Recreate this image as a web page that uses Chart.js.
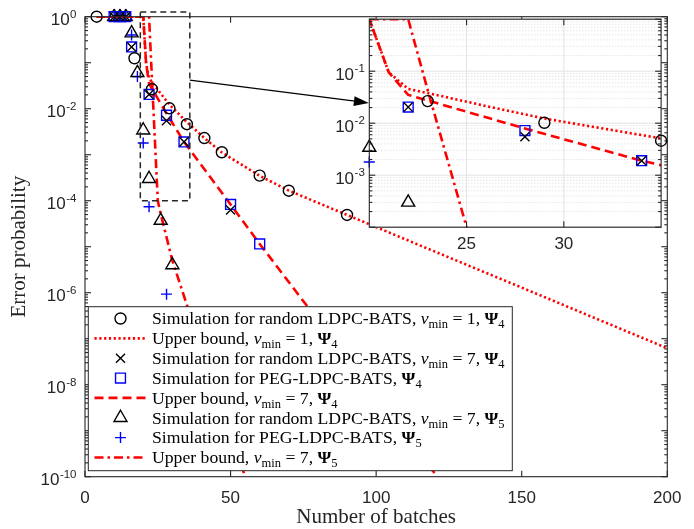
<!DOCTYPE html>
<html>
<head>
<meta charset="utf-8">
<script src="https://cdn.jsdelivr.net/npm/chart.js@4.4.1/dist/chart.umd.min.js"></script>
<style>
  body { margin: 0; background: #fff; }
  #wrap { position: relative; width: 694px; height: 529px; }
  #wrap canvas { position: absolute; }
  #main { left: 0; top: 0; }
  #inset { left: 330px; top: 0; }
</style>
</head>
<body>
<div id="wrap">
  <canvas id="main" width="694" height="529"></canvas>
  <canvas id="inset" width="340" height="260"></canvas>
</div>
<script>
/* valores */
const circX = [4, 17, 23, 29, 35, 41, 47, 60, 70, 90];
const circP = [1, 0.125, 0.0266, 0.0102, 0.0046, 0.0023, 0.00113, 3.5e-4, 1.65e-4, 4.9e-5];

const crossX = [10, 12, 14, 16, 22, 28, 34, 50];
const crossP = [1, 1, 1, 0.22, 0.0204, 0.0055, 0.0019, 6.3e-5];

const sqX = [10, 12, 14, 16, 22, 28, 34, 50, 60];
const sqP = [1, 1, 1, 0.22, 0.0204, 0.0072, 0.0019, 8.3e-5, 1.15e-5];

const triX = [10, 12, 14, 16, 18, 20, 22, 26, 30];
const triP = [1, 1, 1, 0.44, 0.06, 0.0034, 3e-4, 3.7e-5, 4e-6];

const plusX = [10, 12, 14, 16, 18, 20, 22, 28];
const plusP = [1, 1, 1, 0.4, 0.05, 0.0018, 7.4e-5, 9.3e-7];

// cotas superiores
const ub1X = [4, 20, 21, 22, 23, 26, 29, 35, 41, 47, 60, 70, 90, 120, 150, 200];
const ub1P = [1, 1, 0.095, 0.0457, 0.038, 0.0214, 0.0123, 0.0051, 0.0023, 0.00112, 3.47e-4, 1.66e-4, 4.9e-5, 7.9e-6, 1.29e-6, 6.2e-8];

const ub7X = [4, 20, 21, 22, 25, 28, 34, 50, 60, 121, 130];
const ub7P = [1, 1, 0.095, 0.035, 0.0166, 0.0079, 0.0019, 8.3e-5, 1.15e-5, 1e-10, 1.7e-11];

const ub5X = [4, 22, 23, 24, 25, 26, 30, 35, 45, 55, 60];
const ub5P = [1, 1, 0.0437, 0.0021, 1e-4, 5.2e-5, 5e-6, 5.4e-7, 7.9e-9, 1e-10, 1.2e-11];

// ejes
const xTicks = [0, 50, 100, 150, 200];
const yTickExp = [0, -2, -4, -6, -8, -10];
const insetXTicks = [25, 30];
const insetYTickExp = [-1, -2, -3];

// leyenda
const legendNames = ["Simulation for random LDPC-BATS", "Upper bound", "Simulation for random LDPC-BATS",
  "Simulation for PEG-LDPC-BATS", "Upper bound", "Simulation for random LDPC-BATS",
  "Simulation for PEG-LDPC-BATS", "Upper bound"];
const legendNu = [1, 1, 7, null, 7, 7, null, 7];
const legendPsi = [4, 4, 4, 4, 4, 5, 5, 5];

// recuadro de zoom y flecha (coordenadas de datos)
const zoomBoxX = [19, 36];
const zoomBoxP = [1e-4, 1.26];
const arrowFrom = [36, 0.042];
const arrowTo = [97.5, 0.0133];

const AX = "#262626";
const RED = "#ff0000";
const BLUE = "#0000ff";
const SANS = '"Liberation Sans", Arial, sans-serif';
const SERIF = '"Liberation Serif", "Times New Roman", serif';

function pts(xs, ys) {
  return xs.map((x, i) => ({ x: x, y: ys[i] }));
}

function marker(label, xs, ys, style, r, color) {
  return {
    label: label, data: pts(xs, ys), showLine: false,
    clip: { left: 8, right: 8, top: 8, bottom: 0 },
    pointStyle: style, pointRadius: r, pointBorderWidth: 1.4,
    borderColor: color, backgroundColor: "rgba(0,0,0,0)",
  };
}

function bound(label, xs, ys, dash) {
  return {
    label: label, data: pts(xs, ys), borderColor: RED, borderWidth: 2.6,
    borderDash: dash, pointRadius: 0, fill: false, tension: 0,
  };
}

function makeDatasets() {
  return [
    marker("circ", circX, circP, "circle", 5.5, "#000"),
    bound("ub1", ub1X, ub1P, [2.2, 2.6]),
    marker("cross", crossX, crossP, "crossRot", 6.4, "#000"),
    marker("sq", sqX, sqP, "rect", 7, BLUE),
    bound("ub7", ub7X, ub7P, [9, 5]),
    marker("tri", triX, triP, "triangle", 7.5, "#000"),
    marker("plus", plusX, plusP, "cross", 5.5, BLUE),
    bound("ub5", ub5X, ub5P, [9, 4, 2.5, 4]),
  ];
}

function line(ctx, x0, y0, x1, y1) {
  ctx.beginPath(); ctx.moveTo(x0, y0); ctx.lineTo(x1, y1); ctx.stroke();
}

// ticks hacia adentro en los cuatro lados
function drawTicks(ctx, a, xs, yMajor, yMinor, xScale, yScale) {
  xs.forEach(v => {
    const p = xScale.getPixelForValue(v);
    line(ctx, p, a.bottom, p, a.bottom - 6);
    line(ctx, p, a.top, p, a.top + 6);
  });
  yMajor.forEach(v => {
    const p = yScale.getPixelForValue(v);
    line(ctx, a.left, p, a.left + 6, p);
    line(ctx, a.right, p, a.right - 6, p);
  });
  yMinor.forEach(v => {
    const p = yScale.getPixelForValue(v);
    line(ctx, a.left, p, a.left + 3, p);
    line(ctx, a.right, p, a.right - 3, p);
  });
}

function decades(lo, hi) {
  const major = [], minor = [];
  for (let e = lo; e <= hi; e++) {
    major.push(Math.pow(10, e));
    if (e < hi) for (let m = 2; m <= 9; m++) minor.push(m * Math.pow(10, e));
  }
  return { major, minor };
}

// etiqueta 10^e alineada a la derecha
function powLabel(ctx, exp, xRight, yTick) {
  const e = String(exp);
  ctx.font = "11.5px " + SANS;
  const ew = ctx.measureText(e).width;
  ctx.font = "17px " + SANS;
  const bw = ctx.measureText("10").width;
  const x0 = xRight - ew - bw;
  ctx.textAlign = "left";
  ctx.textBaseline = "alphabetic";
  ctx.fillText("10", x0, yTick + 8.3);
  ctx.font = "11.5px " + SANS;
  ctx.fillText(e, x0 + bw + 0.5, yTick + 0.8);
}

function drawRich(ctx, segs, x, y) {
  segs.forEach(s => {
    ctx.font = s.f;
    ctx.fillText(s.t, x, y + (s.dy || 0));
    x += ctx.measureText(s.t).width;
  });
}

function legendSegs(i) {
  const n = "17.7px " + SERIF, it = "italic 17.7px " + SERIF, sm = "12.5px " + SERIF, bd = "bold 17.7px " + SERIF;
  const segs = [{ t: legendNames[i] + ", ", f: n }];
  if (legendNu[i] !== null) {
    segs.push({ t: "\u03bd", f: it }, { t: "min", f: sm, dy: 4 }, { t: " = " + legendNu[i] + ", ", f: n });
  }
  segs.push({ t: "\u03a8", f: bd }, { t: String(legendPsi[i]), f: sm, dy: 4 });
  return segs;
}

const mainDeco = {
  id: "mainDeco",
  afterDraw(chart) {
    const { ctx, chartArea: a, scales: { x, y } } = chart;
    ctx.save();
    ctx.strokeStyle = AX;
    ctx.fillStyle = AX;
    ctx.lineWidth = 1.1;
    ctx.strokeRect(a.left, a.top, a.right - a.left, a.bottom - a.top);
    const d = decades(-10, 0);
    drawTicks(ctx, a, xTicks, d.major, d.minor, x, y);

    // etiquetas de ticks
    ctx.font = "17px " + SANS;
    ctx.textAlign = "center";
    ctx.textBaseline = "alphabetic";
    xTicks.forEach(v => ctx.fillText(String(v), x.getPixelForValue(v), 502.5));
    yTickExp.forEach(e => powLabel(ctx, e, a.left - 9, y.getPixelForValue(Math.pow(10, e))));

    // titulos
    ctx.font = "21px " + SERIF;
    ctx.textAlign = "center";
    ctx.fillText("Number of batches", (a.left + a.right) / 2, 523);
    ctx.save();
    ctx.translate(19, (a.top + a.bottom) / 2);
    ctx.rotate(-Math.PI / 2);
    ctx.textBaseline = "middle";
    ctx.fillText("Error probability", 0, 0);
    ctx.restore();

    // recuadro punteado
    ctx.strokeStyle = "#262626";
    ctx.lineWidth = 1.5;
    ctx.setLineDash([6, 4]);
    const bx0 = x.getPixelForValue(zoomBoxX[0]), bx1 = x.getPixelForValue(zoomBoxX[1]);
    const by0 = y.getPixelForValue(zoomBoxP[1]), by1 = y.getPixelForValue(zoomBoxP[0]);
    ctx.strokeRect(bx0, by0, bx1 - bx0, by1 - by0);
    ctx.setLineDash([]);

    // flecha
    const ax0 = x.getPixelForValue(arrowFrom[0]), ay0 = y.getPixelForValue(arrowFrom[1]);
    const ax1 = x.getPixelForValue(arrowTo[0]), ay1 = y.getPixelForValue(arrowTo[1]);
    const ang = Math.atan2(ay1 - ay0, ax1 - ax0);
    ctx.strokeStyle = "#000";
    ctx.fillStyle = "#000";
    ctx.lineWidth = 1.3;
    line(ctx, ax0, ay0, ax1 - 12 * Math.cos(ang), ay1 - 12 * Math.sin(ang));
    ctx.beginPath();
    ctx.moveTo(ax1, ay1);
    ctx.lineTo(ax1 - 15 * Math.cos(ang) + 5 * Math.sin(ang), ay1 - 15 * Math.sin(ang) - 5 * Math.cos(ang));
    ctx.lineTo(ax1 - 15 * Math.cos(ang) - 5 * Math.sin(ang), ay1 - 15 * Math.sin(ang) + 5 * Math.cos(ang));
    ctx.closePath();
    ctx.fill();

    // leyenda
    const L = { left: 88.3, top: 306.7, right: 512.3, bottom: 470.7 };
    ctx.fillStyle = "#fff";
    ctx.fillRect(L.left, L.top, L.right - L.left, L.bottom - L.top);
    ctx.strokeStyle = AX;
    ctx.lineWidth = 1;
    ctx.strokeRect(L.left, L.top, L.right - L.left, L.bottom - L.top);
    chart.data.datasets.forEach((ds, i) => {
      const cy = 318.5 + 19.85 * i;
      if (ds.showLine === false) {
        ctx.strokeStyle = ds.borderColor;
        ctx.fillStyle = "rgba(0,0,0,0)";
        ctx.lineWidth = ds.pointBorderWidth;
        Chart.helpers.drawPoint(ctx, { pointStyle: ds.pointStyle, radius: ds.pointRadius, borderWidth: ds.pointBorderWidth, rotation: 0 }, 120.5, cy);
      } else {
        ctx.strokeStyle = ds.borderColor;
        ctx.lineWidth = ds.borderWidth;
        ctx.setLineDash(ds.borderDash);
        line(ctx, 94.5, cy, 146, cy);
        ctx.setLineDash([]);
      }
      ctx.fillStyle = "#000";
      ctx.textAlign = "left";
      ctx.textBaseline = "alphabetic";
      drawRich(ctx, legendSegs(i), 152, cy + 5.8);
    });
    ctx.restore();
  },
};

const insetDeco = {
  id: "insetDeco",
  beforeDatasetsDraw(chart) {
    const { ctx, chartArea: a, scales: { x, y } } = chart;
    ctx.save();
    ctx.fillStyle = "#fff";
    ctx.fillRect(a.left, a.top, a.right - a.left, a.bottom - a.top);
    const d = decades(-4, 0);
    // rejilla menor punteada
    ctx.strokeStyle = "#d0d0d0";
    ctx.lineWidth = 0.8;
    ctx.setLineDash([1, 2]);
    d.minor.forEach(v => { const p = y.getPixelForValue(v); line(ctx, a.left, p, a.right, p); });
    ctx.setLineDash([]);
    ctx.strokeStyle = "#e3e3e3";
    ctx.lineWidth = 1;
    d.major.forEach(v => { const p = y.getPixelForValue(v); line(ctx, a.left, p, a.right, p); });
    insetXTicks.forEach(v => { const p = x.getPixelForValue(v); line(ctx, p, a.top, p, a.bottom); });
    ctx.restore();
  },
  afterDraw(chart) {
    const { ctx, chartArea: a, scales: { x, y } } = chart;
    ctx.save();
    ctx.strokeStyle = AX;
    ctx.fillStyle = AX;
    ctx.lineWidth = 1.1;
    ctx.strokeRect(a.left, a.top, a.right - a.left, a.bottom - a.top);
    const d = decades(-4, 0);
    drawTicks(ctx, a, insetXTicks, d.major, d.minor, x, y);
    ctx.font = "17px " + SANS;
    ctx.textAlign = "center";
    ctx.textBaseline = "alphabetic";
    insetXTicks.forEach(v => ctx.fillText(String(v), x.getPixelForValue(v), 249));
    insetYTickExp.forEach(e => powLabel(ctx, e, a.left - 5, y.getPixelForValue(Math.pow(10, e))));
    ctx.restore();
  },
};

function scalesFor(xmin, xmax, ymin, ymax) {
  return {
    x: { type: "linear", min: xmin, max: xmax, display: false },
    y: { type: "logarithmic", min: ymin, max: ymax, display: false },
  };
}

const common = {
  responsive: false,
  animation: false,
  devicePixelRatio: 1,
  events: [],
  plugins: { legend: { display: false }, tooltip: { enabled: false } },
};

const mainChart = new Chart(document.getElementById("main").getContext("2d"), {
  type: "line",
  data: { datasets: makeDatasets() },
  options: Object.assign({}, common, {
    layout: { padding: { left: 85, top: 16.7, right: 26.7, bottom: 52.3 } },
    scales: scalesFor(0, 200, 1e-10, 1),
  }),
  plugins: [mainDeco],
});

const insetChart = new Chart(document.getElementById("inset").getContext("2d"), {
  type: "line",
  data: { datasets: makeDatasets() },
  options: Object.assign({}, common, {
    layout: { padding: { left: 39.3, top: 19.2, right: 6.7, bottom: 32.8 } },
    scales: scalesFor(20, 35, 1e-4, 1),
  }),
  plugins: [insetDeco],
});
</script>
</body>
</html>
